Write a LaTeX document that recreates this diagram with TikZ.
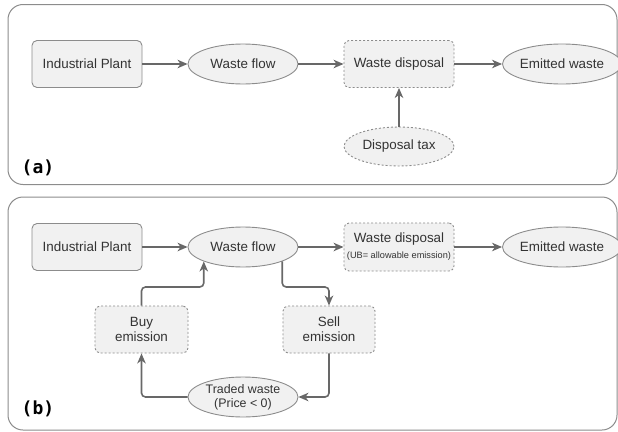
\documentclass[tikz,border=0pt]{standalone}
\usepackage{fontspec}
\setmainfont{Liberation Sans}
\newfontfamily\labelfont{DejaVu Sans Mono}
\usetikzlibrary{arrows.meta,shapes.geometric}
\definecolor{fillg}{HTML}{F1F1F1}
\definecolor{lineg}{HTML}{8C8C8C}
\definecolor{arrg}{HTML}{686868}
\definecolor{txt}{HTML}{333333}
\begin{document}
\begin{tikzpicture}[x=1pt,y=-1pt,
  every node/.style={font=\fontsize{13.4}{15}\selectfont, text=txt, align=center, inner sep=0pt},
  rbox/.style={draw=lineg, fill=fillg, rounded corners=5pt, minimum width=110pt, minimum height=47pt, line width=0.9pt},
  dbox/.style={rbox, dash pattern=on 2pt off 2pt},
  ell/.style={ellipse, draw=lineg, fill=fillg, minimum width=110pt, minimum height=40pt, line width=0.9pt},
  flow/.style={draw=arrg, line width=1.6pt, -{Stealth[length=10pt,width=8.5pt,inset=3pt]}, rounded corners=4pt},
  panel/.style={draw=lineg, rounded corners=15pt, line width=1pt},
  tag/.style={font=\labelfont\bfseries\fontsize{18}{20}\selectfont, text=black}
]
\useasboundingbox (0,0) rectangle (618,431);

% panels
\draw[panel] (8,4.5) rectangle (617,184.5);
\draw[panel] (8,197) rectangle (617,430);

% (a)
\node[rbox] (ipA) at (87,64) {Industrial Plant};
\node[ell] (wfA) at (243,64) {Waste flow};
\node[dbox] (wdA) at (399,64) {Waste disposal};
\node[ell] (ewA) at (562,64) {Emitted waste};
\node[ell, dash pattern=on 2pt off 2pt, minimum height=39pt] (dtA) at (399,146.5) {Disposal tax};
\node[tag] (la) at (38,167.5) {(a)};

\draw[flow] (ipA) -- (wfA);
\draw[flow] (wfA) -- (wdA);
\draw[flow] (wdA) -- (ewA);
\draw[flow] (dtA) -- (wdA);

% (b)
\node[rbox] (ipB) at (87,247) {Industrial Plant};
\node[ell] (wfB) at (243,247) {Waste flow};
\node[dbox, minimum height=48pt] (wdB) at (399,247) {Waste disposal\\[1pt]{\fontsize{9.2}{11}\selectfont (UB= allowable emission)}};
\node[ell] (ewB) at (562,247) {Emitted waste};
\node[dbox, minimum width=93pt] (buy) at (141.5,329.5) {Buy\\emission};
\node[dbox, minimum width=92pt] (sell) at (329,329.5) {Sell\\emission};
\node[ell, font=\fontsize{12.4}{14}\selectfont] (tw) at (243,397) {Traded waste\\(Price < 0)};
\node[tag] (lb) at (38,408.5) {(b)};

\coordinate (jr) at (wfB.south east |- 0,287);
\coordinate (jl) at (wfB.south west |- 0,287);

\draw[flow] (ipB) -- (wfB);
\draw[flow] (wfB) -- (wdB);
\draw[flow] (wdB) -- (ewB);
\draw[flow] (wfB.south east) -- (jr) -| (sell.north);
\draw[flow] (sell.south) |- (tw.east);
\draw[flow] (tw.west) -| (buy.south);
\draw[flow] (buy.north) |- (jl) -- (wfB.south west);
\end{tikzpicture}
\end{document}
